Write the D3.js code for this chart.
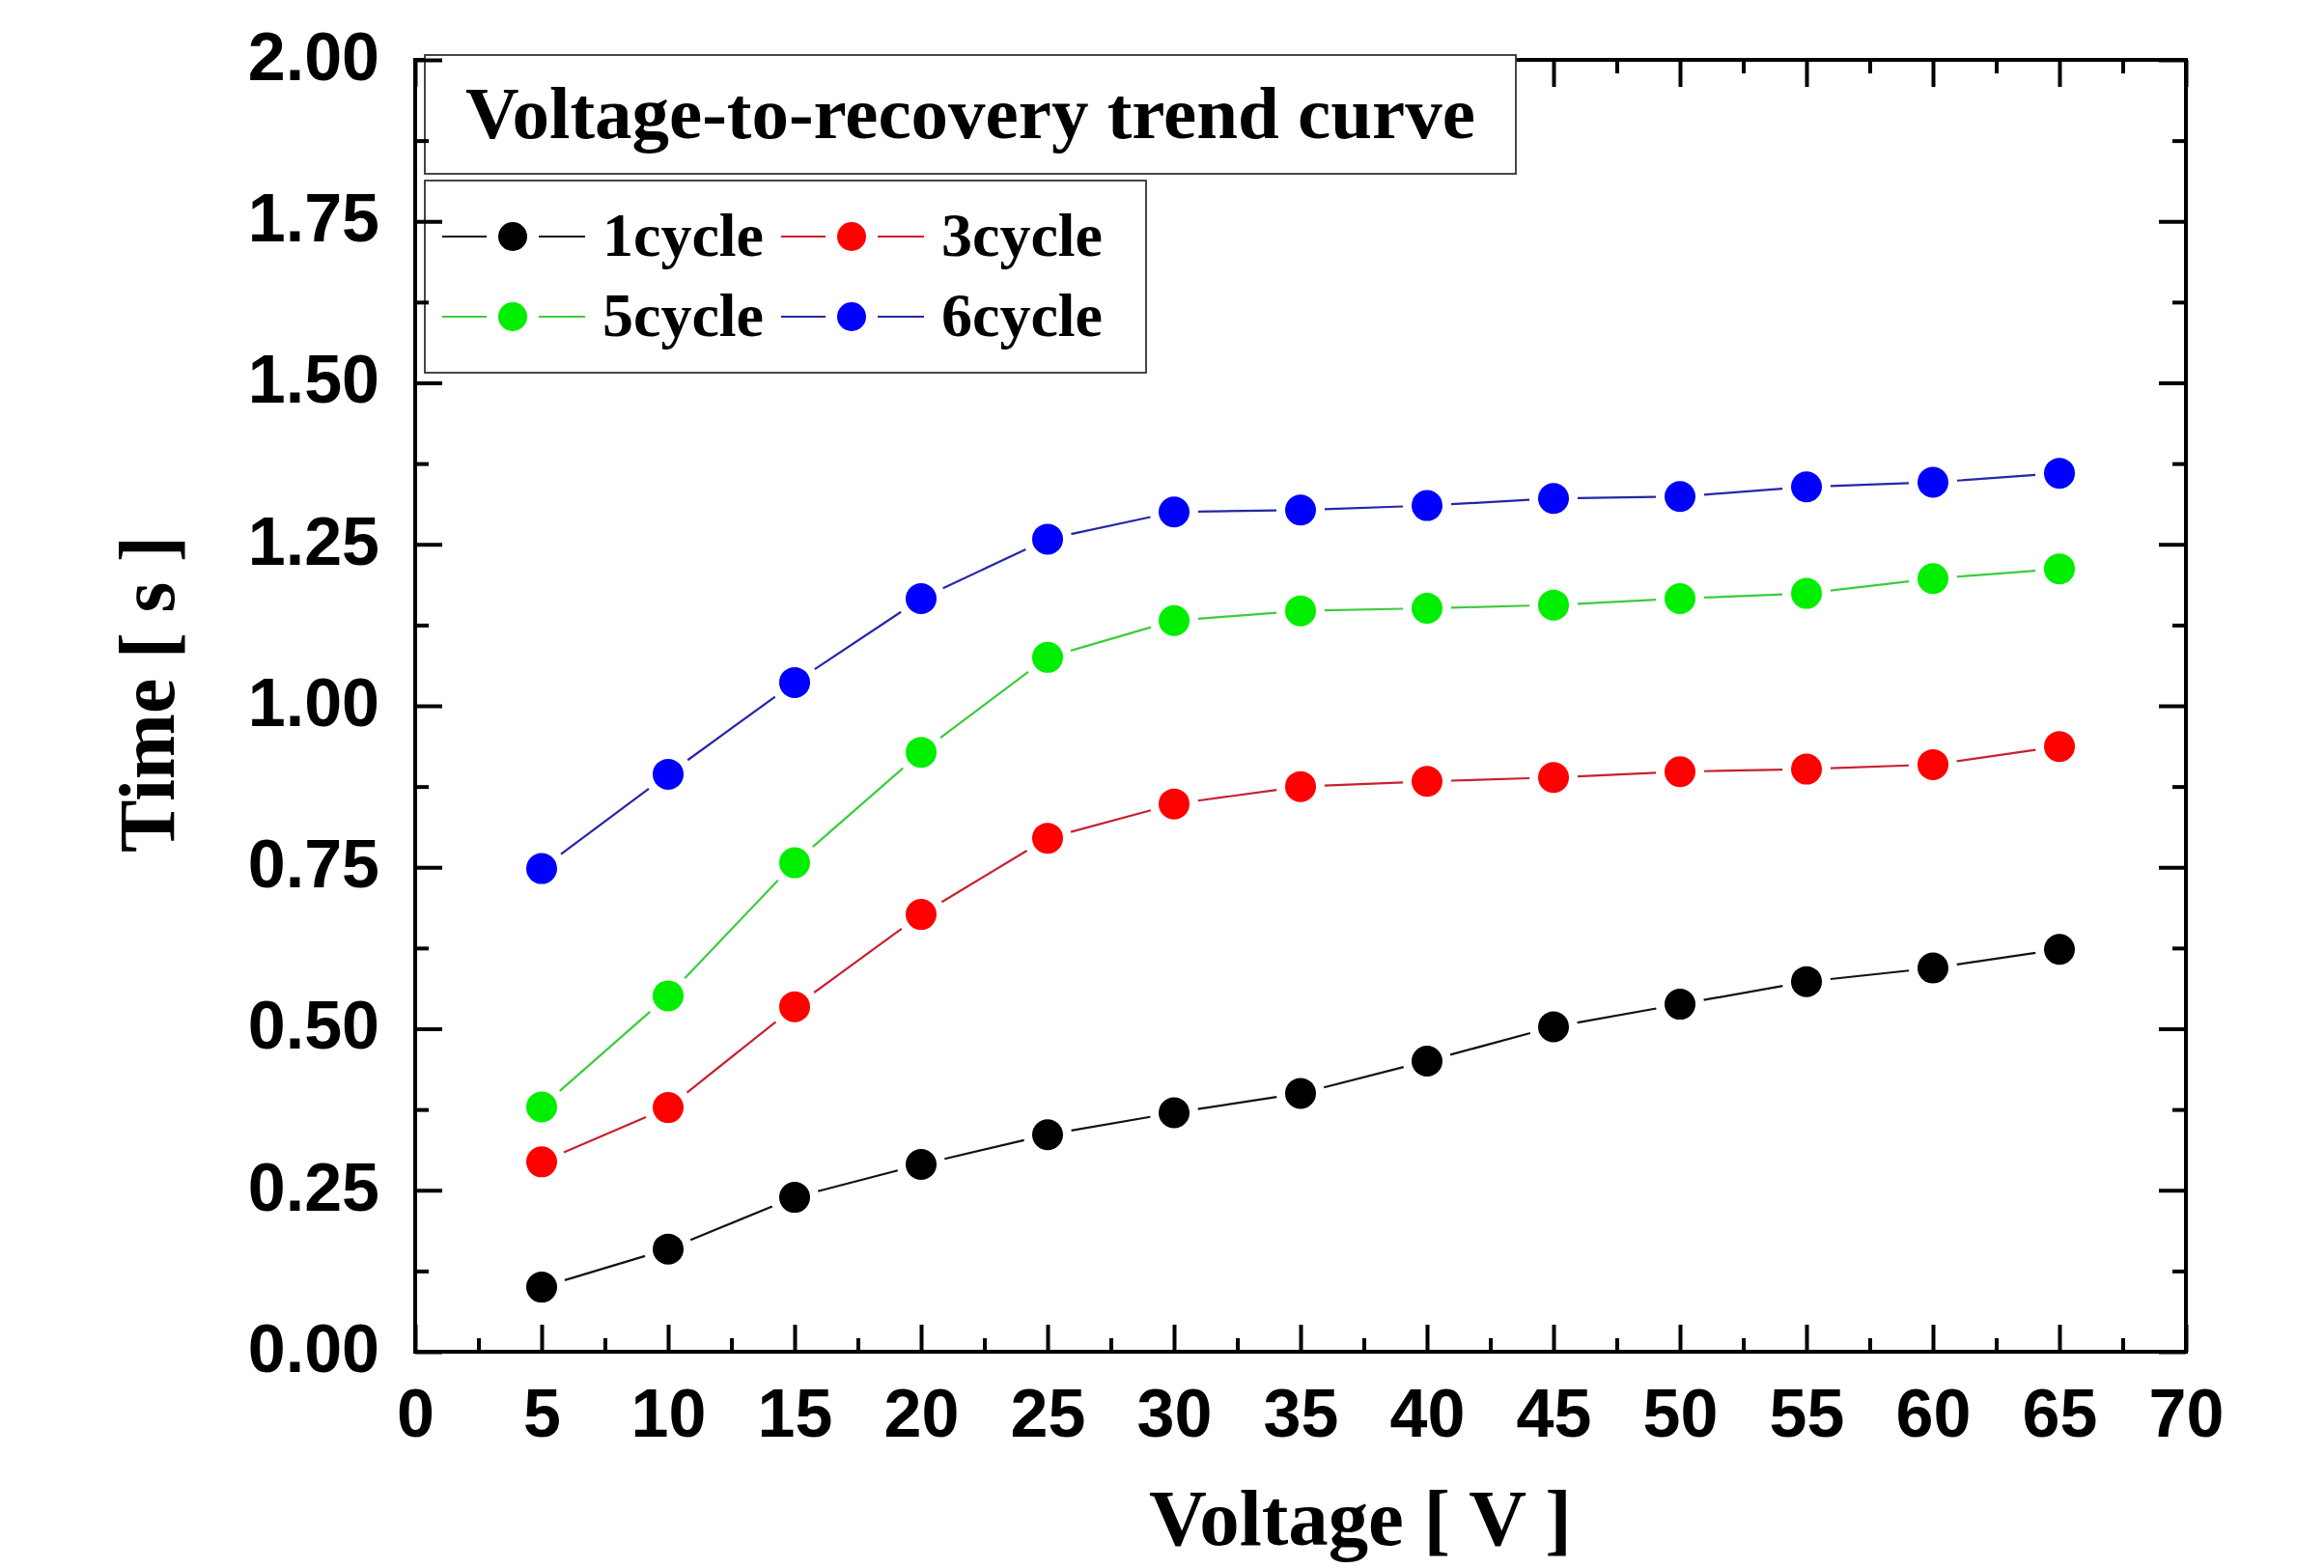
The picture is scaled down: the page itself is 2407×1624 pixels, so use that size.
<!DOCTYPE html>
<html>
<head>
<meta charset="utf-8">
<script src="https://cdn.jsdelivr.net/npm/d3@7"></script>
<style>
  html, body { margin: 0; padding: 0; background: #fff; }
  svg { display: block; }
</style>
</head>
<body>
<svg id="chart" width="2407" height="1624"></svg>
<script>
// ---------------- data ----------------
const voltage = [5, 10, 15, 20, 25, 30, 35, 40, 45, 50, 55, 60, 65];
const cycle1 = [0.100, 0.159, 0.239, 0.290, 0.336, 0.370, 0.400, 0.450, 0.503, 0.538, 0.573, 0.594, 0.623];
const cycle3 = [0.294, 0.378, 0.534, 0.677, 0.795, 0.848, 0.875, 0.883, 0.889, 0.898, 0.902, 0.909, 0.937];
const cycle5 = [0.379, 0.551, 0.757, 0.928, 1.075, 1.132, 1.147, 1.151, 1.156, 1.166, 1.174, 1.197, 1.212];
const cycle6 = [0.748, 0.894, 1.036, 1.166, 1.258, 1.300, 1.303, 1.310, 1.321, 1.324, 1.339, 1.346, 1.360];
const seriesNames = ["1cycle", "3cycle", "5cycle", "6cycle"];
const xTicks = [0, 5, 10, 15, 20, 25, 30, 35, 40, 45, 50, 55, 60, 65, 70];
const yTicks = [0, 0.25, 0.5, 0.75, 1.0, 1.25, 1.5, 1.75, 2.0];
const chartTitle = "Voltage-to-recovery trend curve";
const xTitle = "Voltage [ V ]";
const yTitle = "Time [ s ]";

// ---------------- styles ----------------
const markerColors = ["#000000", "#ff0000", "#00ee00", "#0000ff"];
const lineColors = ["#111111", "#c8202e", "#3ccc3c", "#2626a6"];
const sans = "'Liberation Sans', Arial, sans-serif";
const serif = "'Liberation Serif', 'Times New Roman', serif";

const svg = d3.select("#chart");
const X0 = 430, X1 = 2264, Y0 = 1400, Y1 = 62;

const x = d3.scaleLinear().domain([0, 70]).range([X0, X1]);
const y = d3.scaleLinear().domain([0, 2]).range([Y0, Y1]);

const seriesValues = [cycle1, cycle3, cycle5, cycle6];
const series = seriesNames.map((name, i) => ({
  name, color: markerColors[i], lineColor: lineColors[i],
  points: voltage.map((v, j) => ({ v, t: seriesValues[i][j] }))
}));

const xMinor = d3.range(2.5, 70, 5);
const yMinor = d3.range(0.125, 2, 0.25);

// ---------------- axes (ticks inward on all four sides) ----------------
const axisG = svg.append("g");
function styleAxis(g) {
  g.select(".domain").remove();
  g.selectAll(".tick line").attr("stroke", "#000").attr("stroke-width", 4);
}
// bottom
axisG.append("g").attr("transform", `translate(0,${Y0})`)
  .call(d3.axisBottom(x).tickValues(xTicks).tickSizeInner(-28).tickSizeOuter(0).tickPadding(38).tickFormat(d3.format("d")))
  .call(styleAxis)
  .call(g => g.selectAll("text").attr("font-family", sans).attr("font-weight", "bold").attr("font-size", 70).attr("fill", "#000"));
axisG.append("g").attr("transform", `translate(0,${Y0})`)
  .call(d3.axisBottom(x).tickValues(xMinor).tickSizeInner(-14).tickSizeOuter(0).tickFormat(""))
  .call(styleAxis);
// top
axisG.append("g").attr("transform", `translate(0,${Y1})`)
  .call(d3.axisTop(x).tickValues(xTicks).tickSizeInner(-28).tickSizeOuter(0).tickFormat(""))
  .call(styleAxis);
axisG.append("g").attr("transform", `translate(0,${Y1})`)
  .call(d3.axisTop(x).tickValues(xMinor).tickSizeInner(-14).tickSizeOuter(0).tickFormat(""))
  .call(styleAxis);
// right
axisG.append("g").attr("transform", `translate(${X1},0)`)
  .call(d3.axisRight(y).tickValues(yTicks).tickSizeInner(-28).tickSizeOuter(0).tickFormat(""))
  .call(styleAxis);
axisG.append("g").attr("transform", `translate(${X1},0)`)
  .call(d3.axisRight(y).tickValues(yMinor).tickSizeInner(-14).tickSizeOuter(0).tickFormat(""))
  .call(styleAxis);

// frame
axisG.append("rect").attr("x", X0).attr("y", Y1).attr("width", X1 - X0).attr("height", Y0 - Y1)
  .attr("fill", "none").attr("stroke", "#000").attr("stroke-width", 4);

// ---------------- series ----------------
const GAP = 25;
const plotG = svg.append("g");
series.forEach(s => {
  const pts = s.points.map(p => [x(p.v), y(p.t)]);
  const segs = d3.pairs(pts).map(([a, b]) => {
    const dx = b[0] - a[0], dy = b[1] - a[1], L = Math.hypot(dx, dy);
    const ux = dx / L, uy = dy / L;
    return [[a[0] + ux * GAP, a[1] + uy * GAP], [b[0] - ux * GAP, b[1] - uy * GAP]];
  });
  plotG.append("g").selectAll("line").data(segs).join("line")
    .attr("x1", d => d[0][0]).attr("y1", d => d[0][1])
    .attr("x2", d => d[1][0]).attr("y2", d => d[1][1])
    .attr("stroke", s.lineColor).attr("stroke-width", 2.2);
  plotG.append("g").selectAll("circle").data(s.points).join("circle")
    .attr("cx", d => x(d.v)).attr("cy", d => y(d.t)).attr("r", 16)
    .attr("fill", s.color);
});

// ---------------- title box ----------------
function fitFont(sel, base, target) {
  sel.attr("font-size", base);
  const w = sel.node().getComputedTextLength();
  sel.attr("font-size", base * target / w);
}
svg.append("rect").attr("x", 440).attr("y", 57).attr("width", 1130).attr("height", 123)
  .attr("fill", "#fff").attr("stroke", "#333").attr("stroke-width", 1.8);
const tt = svg.append("text").attr("x", 482).attr("y", 143)
  .attr("font-family", serif).attr("font-weight", "bold").attr("fill", "#000").text(chartTitle);
fitFont(tt, 74, 1046);

// ---------------- legend ----------------
svg.append("rect").attr("x", 440).attr("y", 187).attr("width", 747).attr("height", 199)
  .attr("fill", "#fff").attr("stroke", "#333").attr("stroke-width", 1.8);
const legPos = [[531, 245], [882, 245], [531, 328], [882, 328]];
let legFont = 64;
series.forEach((s, i) => {
  const [cx, cy] = legPos[i];
  const g = svg.append("g");
  g.append("line").attr("x1", cx - 73).attr("x2", cx - 27).attr("y1", cy).attr("y2", cy)
    .attr("stroke", s.lineColor).attr("stroke-width", 2.2);
  g.append("line").attr("x1", cx + 27).attr("x2", cx + 75).attr("y1", cy).attr("y2", cy)
    .attr("stroke", s.lineColor).attr("stroke-width", 2.2);
  g.append("circle").attr("cx", cx).attr("cy", cy).attr("r", 15).attr("fill", s.color);
  const t = g.append("text").attr("x", cx + 93).attr("y", cy + 20)
    .attr("font-family", serif).attr("font-weight", "bold").attr("fill", "#000").text(s.name);
  if (i === 0) { fitFont(t, 64, 167); legFont = +t.attr("font-size"); }
  else t.attr("font-size", legFont);
});

// re-draw left axis ticks on top of boxes
const leftG = svg.append("g");
leftG.append("g").attr("transform", `translate(${X0},0)`)
  .call(d3.axisLeft(y).tickValues(yTicks).tickSizeInner(-28).tickSizeOuter(0).tickPadding(37).tickFormat(d3.format(".2f")))
  .call(styleAxis)
  .call(g => g.selectAll("text").attr("font-family", sans).attr("font-weight", "bold").attr("font-size", 70)
    .attr("fill", "#000").attr("dy", "0.29em"));
leftG.append("g").attr("transform", `translate(${X0},0)`)
  .call(d3.axisLeft(y).tickValues(yMinor).tickSizeInner(-14).tickSizeOuter(0).tickFormat(""))
  .call(styleAxis);
leftG.append("line").attr("x1", X0).attr("x2", X0).attr("y1", Y1 - 2).attr("y2", Y0 + 2)
  .attr("stroke", "#000").attr("stroke-width", 4);

// ---------------- axis titles ----------------
const xt = svg.append("text").attr("x", 1409).attr("y", 1600).attr("text-anchor", "middle")
  .attr("font-family", serif).attr("font-weight", "bold").attr("fill", "#000").text(xTitle);
fitFont(xt, 81, 438);
const yt = svg.append("text").attr("transform", "translate(180,719) rotate(-90)").attr("text-anchor", "middle")
  .attr("font-family", serif).attr("font-weight", "bold").attr("fill", "#000").text(yTitle);
fitFont(yt, 81, 328);
</script>
</body>
</html>
